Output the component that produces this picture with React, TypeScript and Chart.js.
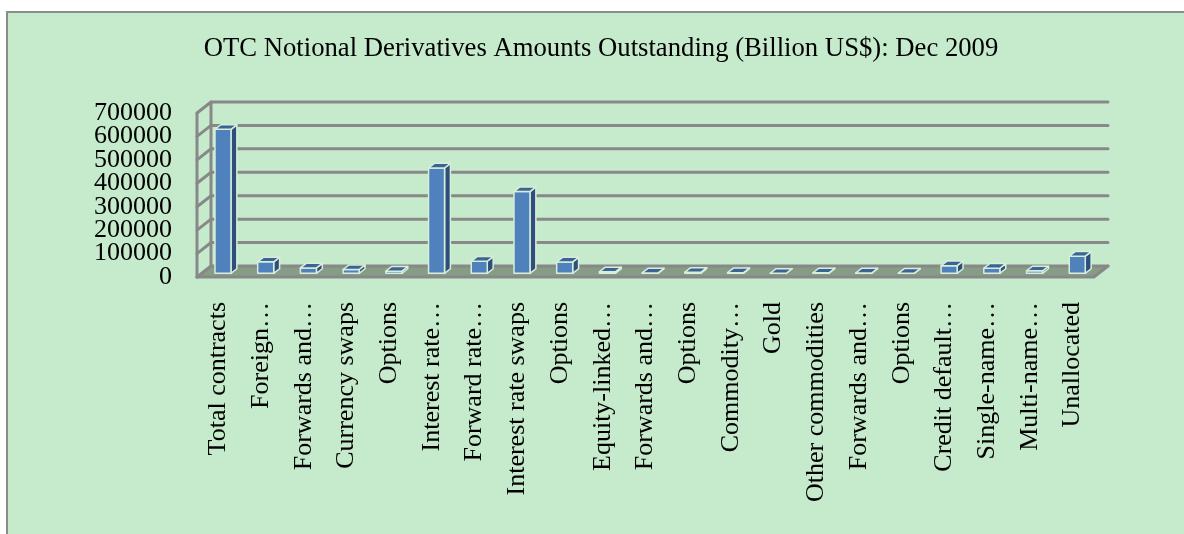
import React, { useEffect, useRef } from "react";
import { Chart, registerables } from "chart.js";

Chart.register(...registerables);

const chartTitle = "OTC Notional Derivatives Amounts Outstanding (Billion US$): Dec 2009";

const categories = [
  "Total contracts",
  "Foreign…",
  "Forwards and…",
  "Currency swaps",
  "Options",
  "Interest rate…",
  "Forward rate…",
  "Interest rate swaps",
  "Options",
  "Equity-linked…",
  "Forwards and…",
  "Options",
  "Commodity…",
  "Gold",
  "Other commodities",
  "Forwards and…",
  "Options",
  "Credit default…",
  "Single-name…",
  "Multi-name…",
  "Unallocated",
];

const values = [
  614674, 49196, 23129, 16509, 9558, 449875, 51779, 349288, 48808, 6591, 1830,
  4762, 2944, 423, 2521, 1675, 846, 32693, 21917, 10776, 73374,
];

const yTickValues = [0, 100000, 200000, 300000, 400000, 500000, 600000, 700000];

const FONT = '"Liberation Serif", "Times New Roman", serif';
const W = 1184;
const H = 534;
const DX = 14;
const DY = -11;
const F1 = 0.33;
const F2 = 0.75;

export default function App() {
  const ref = useRef<HTMLCanvasElement | null>(null);

  useEffect(() => {
    if (!ref.current) return;

    const bgPlugin = {
      id: "bg",
      beforeDraw(chart: any) {
        const ctx = chart.ctx;
        ctx.save();
        ctx.fillStyle = "#ffffff";
        ctx.fillRect(0, 0, W, H);
        ctx.fillStyle = "#c6ebcc";
        ctx.fillRect(7, 12, W - 7, H - 12);
        ctx.strokeStyle = "#8c8c8c";
        ctx.lineWidth = 2;
        ctx.beginPath();
        ctx.moveTo(7, H);
        ctx.lineTo(7, 12);
        ctx.lineTo(W, 12);
        ctx.stroke();
        ctx.restore();
      },
    };

    const wallPlugin = {
      id: "walls",
      beforeDatasetsDraw(chart: any) {
        const ctx = chart.ctx;
        const { left, right, top, bottom } = chart.chartArea;
        const ys = chart.scales.y;
        ctx.save();
        // floor
        ctx.fillStyle = "#869c87";
        ctx.beginPath();
        ctx.moveTo(left, bottom);
        ctx.lineTo(right, bottom);
        ctx.lineTo(right + DX, bottom + DY);
        ctx.lineTo(left + DX, bottom + DY);
        ctx.closePath();
        ctx.fill();
        ctx.strokeStyle = "#888888";
        ctx.lineWidth = 3;
        ctx.lineCap = "round";
        ctx.beginPath();
        ctx.moveTo(left, bottom);
        ctx.lineTo(right, bottom);
        ctx.lineTo(right + DX, bottom + DY);
        ctx.stroke();
        // left wall front edge and back edge
        ctx.beginPath();
        ctx.moveTo(left, top);
        ctx.lineTo(left, bottom);
        ctx.moveTo(left + DX, top + DY);
        ctx.lineTo(left + DX, bottom + DY);
        ctx.stroke();
        // gridlines on back wall + left wall diagonals
        for (const v of yTickValues) {
          const y = ys.getPixelForValue(v);
          ctx.beginPath();
          ctx.moveTo(left, y);
          ctx.lineTo(left + DX, y + DY);
          ctx.lineTo(right + DX, y + DY);
          ctx.stroke();
        }
        ctx.restore();
      },
    };

    const barsPlugin = {
      id: "bars3d",
      afterDatasetsDraw(chart: any) {
        const ctx = chart.ctx;
        const meta = chart.getDatasetMeta(0);
        const ox = (F2 - F1) * DX;
        const oy = (F2 - F1) * DY;
        ctx.save();
        ctx.lineJoin = "round";
        ctx.lineWidth = 1.5;
        ctx.strokeStyle = "#d8eed9";
        meta.data.forEach((el: any) => {
          const p = el.getProps(["x", "y", "base", "width"], true);
          const x0 = p.x - p.width / 2 + F1 * DX;
          const x1 = p.x + p.width / 2 + F1 * DX;
          const yt = p.y + F1 * DY;
          const yb = p.base + F1 * DY;
          // side face
          ctx.fillStyle = "#2d4f7e";
          ctx.beginPath();
          ctx.moveTo(x1, yt);
          ctx.lineTo(x1 + ox, yt + oy);
          ctx.lineTo(x1 + ox, yb + oy);
          ctx.lineTo(x1, yb);
          ctx.closePath();
          ctx.fill();
          ctx.stroke();
          // front face
          ctx.fillStyle = "#4f81bd";
          ctx.beginPath();
          ctx.rect(x0, yt, x1 - x0, yb - yt);
          ctx.fill();
          ctx.stroke();
          // top face
          ctx.fillStyle = "#3a6496";
          ctx.beginPath();
          ctx.moveTo(x0, yt);
          ctx.lineTo(x0 + ox, yt + oy);
          ctx.lineTo(x1 + ox, yt + oy);
          ctx.lineTo(x1, yt);
          ctx.closePath();
          ctx.fill();
          ctx.stroke();
        });
        ctx.restore();
      },
    };

    const titlePlugin = {
      id: "customTitle",
      afterDraw(chart: any) {
        const ctx = chart.ctx;
        ctx.save();
        ctx.fillStyle = "#000000";
        ctx.font = `26.7px ${FONT}`;
        ctx.textAlign = "center";
        ctx.textBaseline = "alphabetic";
        ctx.fillText(chartTitle, 601, 56);
        ctx.restore();
      },
    };

    const chart = new Chart(ref.current, {
      type: "bar",
      data: {
        labels: categories,
        datasets: [
          {
            data: values,
            backgroundColor: "rgba(0,0,0,0)",
            borderWidth: 0,
            barPercentage: 0.75,
            categoryPercentage: 0.5,
          },
        ],
      },
      options: {
        responsive: false,
        animation: false,
        devicePixelRatio: 1,
        layout: { padding: { top: 113, right: 90, left: 0, bottom: 0 } },
        plugins: {
          legend: { display: false },
          tooltip: { enabled: false },
          title: { display: false },
        },
        scales: {
          x: {
            grid: { display: false, drawTicks: false },
            border: { display: false },
            ticks: {
              autoSkip: false,
              minRotation: 90,
              maxRotation: 90,
              padding: 25,
              color: "#000000",
              font: { family: FONT, size: 26 },
            },
            afterFit(s: any) {
              s.height = H - 277;
            },
          },
          y: {
            min: 0,
            max: 700000,
            grid: { display: false, drawTicks: false },
            border: { display: false },
            ticks: {
              stepSize: 100000,
              autoSkip: false,
              padding: 25,
              color: "#000000",
              font: { family: FONT, size: 26 },
              callback: (v: any) => String(v),
            },
            afterFit(s: any) {
              s.width = 197;
            },
          },
        },
      },
      plugins: [bgPlugin, wallPlugin, barsPlugin, titlePlugin],
    } as any);

    return () => chart.destroy();
  }, []);

  return (
    <div style={{ position: "fixed", left: 0, top: 0, width: W, height: H }}>
      <canvas ref={ref} width={W} height={H} style={{ display: "block" }} />
    </div>
  );
}
